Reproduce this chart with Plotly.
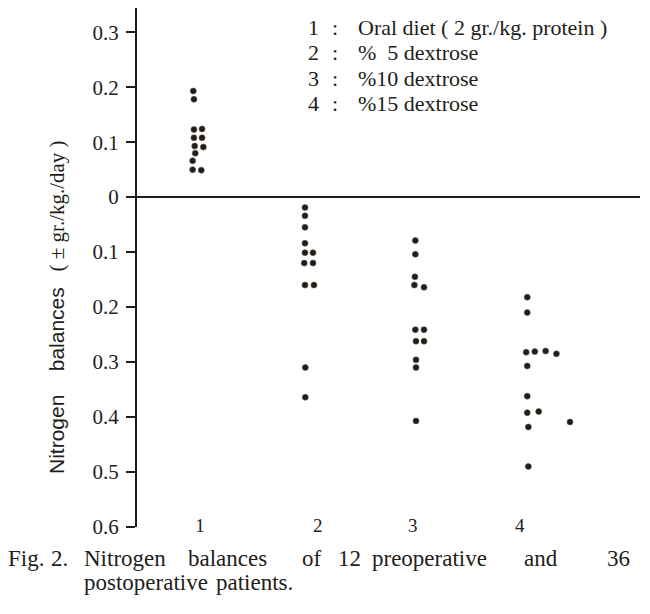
import plotly.graph_objects as go

# nitrogen balance (gr./kg./day) per patient, x = group position with the hand spread of the dots
oral_x = [0.938, 0.944, 0.944, 1.019, 0.944, 1.019, 0.951, 1.031, 0.956, 0.932, 0.932, 1.012]
oral_y = [0.193, 0.178, 0.123, 0.124, 0.108, 0.108, 0.093, 0.091, 0.080, 0.066, 0.050, 0.049]

dex5_x = [1.972, 1.972, 1.972, 1.972, 1.972, 2.046, 1.965, 2.046, 1.972, 2.055, 1.975, 1.975]
dex5_y = [-0.019, -0.034, -0.055, -0.084, -0.101, -0.101, -0.120, -0.120, -0.160, -0.160, -0.310, -0.364]

dex10_x = [2.994, 2.994, 2.990, 2.985, 3.074, 2.994, 3.074, 3.0, 3.074, 3.0, 3.0, 3.0]
dex10_y = [-0.079, -0.104, -0.145, -0.160, -0.164, -0.241, -0.241, -0.262, -0.262, -0.296, -0.310, -0.407]

dex15_x = [4.03, 4.03, 4.02, 4.10, 4.20, 4.30, 4.03, 4.03, 4.03, 4.136, 4.426, 4.04, 4.04]
dex15_y = [-0.182, -0.210, -0.282, -0.281, -0.280, -0.285, -0.307, -0.362, -0.392, -0.390, -0.409, -0.418, -0.490]

groups = ["1", "2", "3", "4"]
group_pos = [1.0, 2.09, 2.97, 3.96]
legend_items = ["Oral diet ( 2 gr./kg. protein )", "%  5 dextrose", "%10 dextrose", "%15 dextrose"]

yticks = [0.3, 0.2, 0.1, 0, -0.1, -0.2, -0.3, -0.4, -0.5, -0.6]
ytick_text = ["0.3", "0.2", "0.1", "0", "0.1", "0.2", "0.3", "0.4", "0.5", "0.6"]

caption_words = ["Fig.", "2.", "Nitrogen", "balances", "of", "12", "preoperative", "and", "36"]
caption_words2 = ["postoperative", "patients."]

ink = "#221d19"
serif = "Liberation Serif"

fig = go.Figure()
for xs, ys in [(oral_x, oral_y), (dex5_x, dex5_y), (dex10_x, dex10_y), (dex15_x, dex15_y)]:
    fig.add_trace(go.Scatter(x=xs, y=ys, mode="markers",
                             marker=dict(size=6, color=ink, line=dict(width=0.6, color="#5a524a")),
                             showlegend=False, hoverinfo="skip"))

# group numbers sit level with the bottom end of the axis
fig.add_trace(go.Scatter(x=group_pos, y=[-0.6] * 4, mode="text", text=groups,
                         textfont=dict(family=serif, size=19, color=ink),
                         textposition="middle center", showlegend=False, cliponaxis=False))


# page coords -> paper coords (plot area spans 137..640 x 8..527 on the page)
def px(x):
    return (x - 137) / 503


def py(y):
    return (527 - y) / 519


ann = []
legend_y = [27, 52, 78, 103]
for i, item in enumerate(legend_items):
    f = dict(family=serif, size=22, color=ink)
    ann.append(dict(x=px(313), y=py(legend_y[i]), text=groups[i], xanchor="center", yanchor="middle", font=f))
    ann.append(dict(x=px(335), y=py(legend_y[i]), text=":", xanchor="center", yanchor="middle", font=f))
    ann.append(dict(x=px(356), y=py(legend_y[i]), text=item.replace(" ", "\u00a0"),
                    xanchor="left", yanchor="middle", font=f))

# y title, rotated
ytitle = ('<span style="font-family:Liberation Sans">Nitrogen\u00a0\u00a0\u00a0\u00a0balances</span>'
          '\u00a0\u00a0\u00a0(\u00a0\u00b1\u00a0gr./kg./day\u00a0)')
ann.append(dict(x=px(57), y=py(307), text=ytitle, textangle=-90, xanchor="center", yanchor="middle",
                font=dict(family=serif, size=21, color=ink)))

# caption, spread out like the printed justified line
cap_x = [6, 49, 82, 186, 300, 336, 370, 522, 605]
for w, x0 in zip(caption_words, cap_x):
    ann.append(dict(x=px(x0), y=py(558), text=w, xanchor="left", yanchor="middle",
                    font=dict(family=serif, size=23, color=ink)))
for w, x0 in zip(caption_words2, [82, 214]):
    ann.append(dict(x=px(x0), y=py(582), text=w, xanchor="left", yanchor="middle",
                    font=dict(family=serif, size=23, color=ink)))

for a in ann:
    a.update(xref="paper", yref="paper", showarrow=False)

# the page body adds 8px on the top and left, so the margins are 8px smaller
fig.update_layout(
    width=650, height=614,
    margin=dict(l=129, r=18, t=0, b=95),
    paper_bgcolor="white", plot_bgcolor="white",
    font=dict(family=serif, color=ink),
    annotations=ann,
    xaxis=dict(range=[0.4167, 5.074], showgrid=False, zeroline=False, showline=False,
               showticklabels=False, ticks=""),
    yaxis=dict(range=[-0.6, 0.344], showgrid=False, showline=True, linecolor=ink, linewidth=2,
               zeroline=True, zerolinecolor=ink, zerolinewidth=1.8,
               tickvals=yticks, ticktext=ytick_text, ticks="outside", ticklen=9, tickwidth=1.5,
               tickcolor=ink, ticklabelstandoff=3,
               tickfont=dict(family=serif, size=21, color=ink)),
)

fig.write_html("out.html")
